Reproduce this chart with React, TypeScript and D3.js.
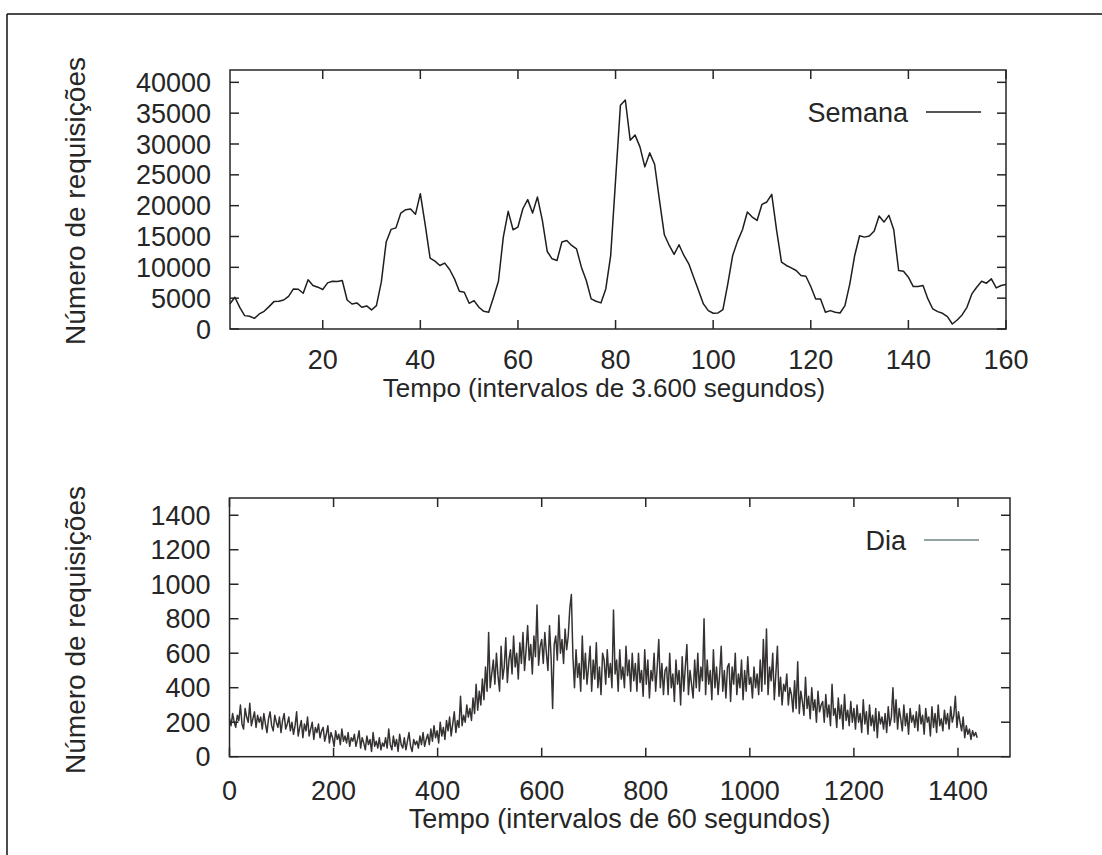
import * as d3 from "d3";

// Semana: requisições por hora (t = 1..160)
const weekValues = [
  4100, 5150, 3500, 2170, 2060, 1730, 2440, 2870, 3630, 4440,
  4500, 4700, 5300, 6500, 6450, 5800, 7970, 7050, 6780, 6400,
  7480, 7750, 7700, 7860, 4700, 4060, 4230, 3520, 3740, 3090,
  3800, 7590, 14100, 16150, 16400, 18800, 19350, 19460, 18600, 21950,
  16900, 11500, 11000, 10300, 10680, 9650, 8130, 6120, 5960, 4170,
  4600, 3520, 2870, 2710, 5150, 7750, 14900, 19080, 16100, 16530,
  19500, 20980, 18800, 21400, 17600, 12570, 11380, 11100, 14100, 14360,
  13550, 13000, 10030, 7860, 4880, 4500, 4230, 6500, 11900, 24100,
  36300, 37130, 30620, 31440, 29540, 26290, 28560, 26720, 20870, 15280,
  13550, 12090, 13660, 11920, 10570, 8400, 6230, 4070, 2980, 2550,
  2600, 3140, 7320, 11920, 14250, 16100, 18970, 18160, 17600, 20220,
  20600, 21840, 16000, 10840, 10300, 9920, 9490, 8670, 8560, 6900,
  4880, 4880, 2710, 2980, 2710, 2600, 3790, 7320, 11920, 15120,
  14900, 15070, 15880, 18320, 17340, 18430, 16100, 9490, 9380, 8400,
  6880, 6880, 7050, 4880, 3250, 2820, 2550, 2000, 810, 1460,
  2280, 3520, 5690, 6780, 7750, 7430, 8130, 6670, 7050, 7210,
];

// Dia: requisições por minuto, uma leitura a cada 3 minutos (uma linha = 1 hora)
const dayStep = 3;
const dayValues = [
  220, 180, 250, 200, 170, 240, 210, 300, 190, 160, 280, 230, 200, 310, 180, 220, 260, 170, 240, 200,
  230, 160, 250, 190, 140, 220, 260, 180, 150, 240, 200, 170, 230, 140, 210, 250, 160, 190, 230, 150,
  200, 130, 180, 260, 120, 170, 210, 110, 190, 150, 230, 120, 160, 200, 100, 170, 140, 190, 110, 150,
  170, 90, 130, 180, 80, 140, 110, 60, 150, 100, 130, 70, 160, 90, 120, 80, 140, 60, 110, 90,
  130, 60, 100, 150, 50, 110, 80, 40, 120, 70, 100, 30, 140, 60, 90, 50, 110, 40, 80, 60,
  110, 50, 160, 70, 40, 120, 60, 100, 30, 130, 70, 50, 110, 40, 90, 140, 60, 30, 100, 70,
  90, 50, 120, 70, 140, 60, 100, 130, 70, 160, 90, 180, 110, 150, 80, 200, 120, 170, 100, 210,
  150, 230, 120, 190, 260, 140, 210, 170, 350, 180, 240, 200, 300, 230, 280, 210, 340, 250, 420, 270,
  380, 300, 450, 330, 520, 380, 720, 400, 480, 560, 420, 600, 470, 380, 640, 450, 520, 690, 430, 560,
  620, 480, 700, 520, 600, 450, 660, 540, 720, 500, 620, 760, 560, 650, 480, 700, 580, 880, 530, 640,
  680, 540, 720, 600, 500, 760, 580, 280, 650, 700, 560, 820, 600, 680, 540, 740, 620, 700, 860, 940,
  580, 400, 620, 460, 540, 380, 700, 450, 600, 420, 520, 640, 380, 560, 450, 660, 400, 520, 360, 600,
  560, 420, 620, 460, 540, 400, 850, 480, 560, 380, 620, 450, 520, 400, 640, 470, 560, 380, 600, 440,
  540, 380, 600, 430, 500, 350, 620, 420, 560, 340, 500, 440, 600, 380, 520, 680, 400, 540, 360, 500,
  520, 360, 600, 400, 480, 320, 560, 420, 500, 300, 580, 380, 520, 650, 360, 500, 420, 340, 560, 400,
  600, 380, 520, 440, 800, 360, 560, 420, 500, 330, 620, 400, 520, 360, 480, 640, 380, 500, 340, 520,
  540, 320, 520, 420, 600, 360, 480, 400, 560, 330, 500, 380, 580, 420, 460, 340, 520, 400, 480, 360,
  560, 380, 680, 420, 740, 360, 520, 440, 600, 330, 480, 640, 350, 460, 300, 420, 380, 480, 300, 400,
  360, 260, 440, 280, 550, 250, 380, 320, 240, 460, 280, 350, 220, 400, 270, 330, 200, 380, 260, 300,
  320, 200, 360, 230, 300, 180, 420, 240, 280, 170, 340, 220, 300, 160, 360, 210, 270, 180, 320, 200,
  280, 160, 300, 200, 250, 140, 330, 190, 260, 130, 300, 180, 240, 150, 280, 110, 260, 190, 230, 160,
  250, 140, 290, 180, 230, 400, 200, 330, 160, 280, 220, 150, 300, 180, 250, 130, 280, 200, 240, 170,
  260, 150, 300, 190, 240, 130, 280, 200, 230, 120, 290, 170, 250, 140, 300, 180, 220, 150, 270, 190,
  250, 160, 290, 200, 240, 350, 170, 260, 200, 150, 230, 110, 180, 130, 160, 100, 150, 120, 140, 110,
];

const weekYTicks = [0, 5000, 10000, 15000, 20000, 25000, 30000, 35000, 40000];
const weekXTicks = [20, 40, 60, 80, 100, 120, 140, 160];
const dayYTicks = [0, 200, 400, 600, 800, 1000, 1200, 1400];
const dayXTicks = [0, 200, 400, 600, 800, 1000, 1200, 1400];

const FONT = "'Liberation Sans', Arial, Helvetica, sans-serif";
const INK = "#262626";

type Box = { left: number; right: number; top: number; bottom: number };

function Panel(props: {
  box: Box;
  xDomain: [number, number];
  yDomain: [number, number];
  xTicks: number[];
  yTicks: number[];
  points: [number, number][];
  lineColor: string;
  lineWidth: number;
  xTitle: string;
  xTitleCenter: number;
  xTitleSize: number;
  legend: string;
  legendEnd: number;
  legendLineColor: string;
  tickBaseline: number;
  titleBaseline: number;
  yTitleY: number;
}) {
  const { box } = props;
  const x = d3.scaleLinear().domain(props.xDomain).range([box.left, box.right]);
  const y = d3.scaleLinear().domain(props.yDomain).range([box.bottom, box.top]);
  const path = d3
    .line<[number, number]>()
    .x((d) => x(d[0]))
    .y((d) => y(d[1]))(props.points);
  const tick = 9;
  const legendY = box.top + 42;

  return (
    <g fontFamily={FONT} fill={INK}>
      <path d={path || ""} fill="none" stroke={props.lineColor} strokeWidth={props.lineWidth} strokeLinejoin="round" />
      <rect
        x={box.left}
        y={box.top}
        width={box.right - box.left}
        height={box.bottom - box.top}
        fill="none"
        stroke={INK}
        strokeWidth={1.5}
      />
      {props.yTicks.map((v) => (
        <g key={"y" + v}>
          <line x1={box.left} x2={box.left + tick} y1={y(v)} y2={y(v)} stroke={INK} strokeWidth={1.5} />
          <line x1={box.right - tick} x2={box.right} y1={y(v)} y2={y(v)} stroke={INK} strokeWidth={1.5} />
          <text x={box.left - 19} y={y(v) + 9.5} textAnchor="end" fontSize={27}>
            {v}
          </text>
        </g>
      ))}
      {props.xTicks.map((v) => (
        <g key={"x" + v}>
          <line x1={x(v)} x2={x(v)} y1={box.bottom} y2={box.bottom - tick} stroke={INK} strokeWidth={1.5} />
          <line x1={x(v)} x2={x(v)} y1={box.top} y2={box.top + tick} stroke={INK} strokeWidth={1.5} />
          <text x={x(v)} y={props.tickBaseline} textAnchor="middle" fontSize={27}>
            {v}
          </text>
        </g>
      ))}
      <text x={props.xTitleCenter} y={props.titleBaseline} textAnchor="middle" fontSize={props.xTitleSize}>
        {props.xTitle}
      </text>
      <text
        transform={`translate(85,${props.yTitleY}) rotate(-90)`}
        textAnchor="middle"
        fontSize={28}
      >
        Número de requisições
      </text>
      <text x={props.legendEnd} y={legendY + 9.5} textAnchor="end" fontSize={27}>
        {props.legend}
      </text>
      <line
        x1={props.legendEnd + 18}
        x2={props.legendEnd + 73}
        y1={legendY}
        y2={legendY}
        stroke={props.legendLineColor}
        strokeWidth={1.5}
      />
    </g>
  );
}

export default function App() {
  const weekPoints: [number, number][] = weekValues.map((v, i) => [i + 1, v]);
  const dayPoints: [number, number][] = dayValues.map((v, i) => [i * dayStep, v]);

  return (
    <svg
      width={1102}
      height={855}
      style={{ position: "absolute", left: 0, top: 0, background: "#fff" }}
    >
      <rect x={0} y={0} width={1102} height={855} fill="#fff" />
      <line x1={7} x2={7} y1={14} y2={855} stroke="#111" strokeWidth={1.5} />
      <line x1={7} x2={1102} y1={14} y2={14} stroke="#111" strokeWidth={1.5} />
      <Panel
        box={{ left: 230, right: 1006, top: 70, bottom: 329 }}
        xDomain={[1, 160]}
        yDomain={[0, 42000]}
        xTicks={weekXTicks}
        yTicks={weekYTicks}
        points={weekPoints}
        lineColor="#1e1e1e"
        lineWidth={1.5}
        xTitle="Tempo (intervalos de 3.600 segundos)"
        xTitleCenter={604}
        xTitleSize={26}
        legend="Semana"
        legendEnd={908}
        legendLineColor="#1e1e1e"
        tickBaseline={369}
        titleBaseline={397}
        yTitleY={201}
      />
      <Panel
        box={{ left: 229.5, right: 1010, top: 498, bottom: 756.7 }}
        xDomain={[0, 1500]}
        yDomain={[0, 1500]}
        xTicks={dayXTicks}
        yTicks={dayYTicks}
        points={dayPoints}
        lineColor="#363232"
        lineWidth={1.5}
        xTitle="Tempo (intervalos de 60 segundos)"
        xTitleCenter={619.5}
        xTitleSize={27}
        legend="Dia"
        legendEnd={906}
        legendLineColor="#6f8482"
        tickBaseline={800}
        titleBaseline={828}
        yTitleY={630}
      />
    </svg>
  );
}
